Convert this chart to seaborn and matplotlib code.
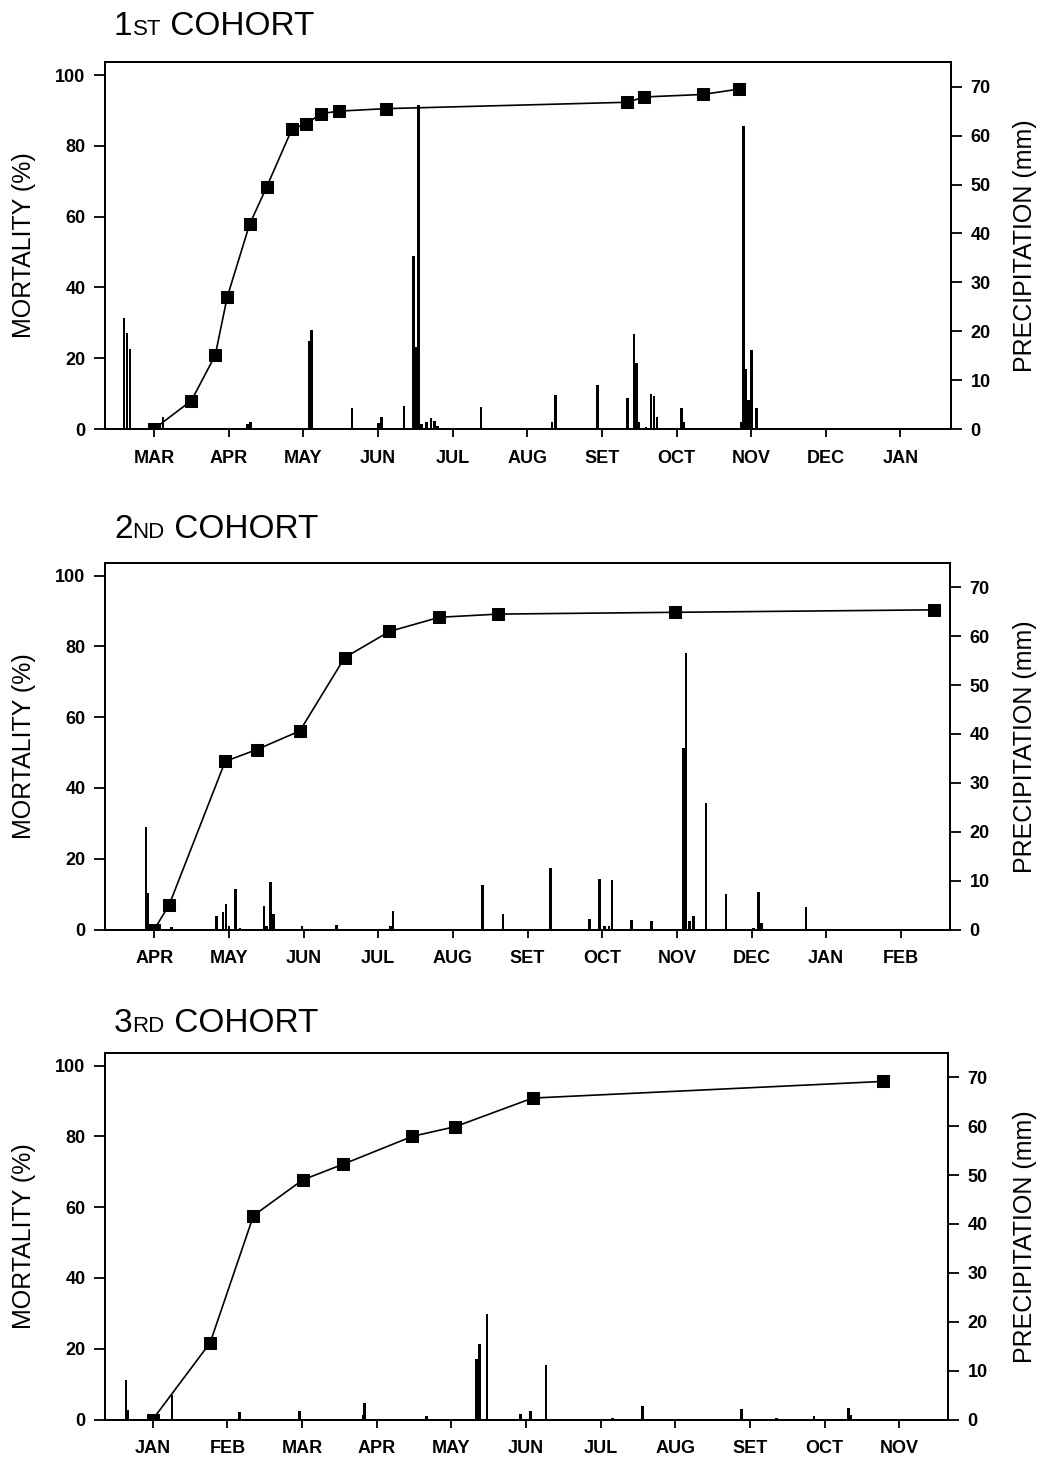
import matplotlib
matplotlib.use("Agg")
import matplotlib.pyplot as plt
import seaborn as sns
import numpy as np

# ---------------- data ----------------
months1 = ["MAR", "APR", "MAY", "JUN", "JUL", "AUG", "SET", "OCT", "NOV", "DEC", "JAN"]
months2 = ["APR", "MAY", "JUN", "JUL", "AUG", "SET", "OCT", "NOV", "DEC", "JAN", "FEB"]
months3 = ["JAN", "FEB", "MAR", "APR", "MAY", "JUN", "JUL", "AUG", "SET", "OCT", "NOV"]

# x positions are in months after the first labelled month
mort1_x = [0.00, 0.50, 0.82, 0.98, 1.28, 1.51, 1.85, 2.04, 2.24, 2.48, 3.11, 6.34, 6.57, 7.35, 7.83]
mort1_y = [0, 8.0, 20.8, 37.2, 57.8, 68.4, 84.8, 86.2, 89.1, 89.8, 90.5, 92.3, 93.8, 94.5, 96.0]
rain1_x = [-0.40, -0.36, -0.32, 0.12, 1.25, 1.29, 2.08, 2.11, 2.65, 3.01, 3.05, 3.35, 3.48, 3.50,
           3.54, 3.58, 3.65, 3.71, 3.76, 3.80, 4.38, 5.33, 5.38, 5.65, 5.94, 6.34, 6.43, 6.46,
           6.49, 6.59, 6.66, 6.70, 6.74, 7.07, 7.10, 7.26, 7.87, 7.90, 7.93, 7.96, 8.00, 8.07]
rain1_y = [22.6, 19.6, 16.4, 2.5, 1.0, 1.5, 17.9, 20.3, 4.2, 1.3, 2.5, 4.8, 35.3, 16.8,
           66.2, 1.0, 1.5, 2.3, 1.6, 0.7, 4.5, 1.5, 6.9, 0.3, 9.1, 6.4, 19.4, 13.5,
           1.5, 0.5, 7.1, 6.7, 2.4, 4.2, 1.5, 0.3, 1.5, 62.0, 12.3, 5.9, 16.1, 4.2]

mort2_x = [0.00, 0.20, 0.95, 1.37, 1.95, 2.55, 3.15, 3.82, 4.61, 6.97, 10.44]
mort2_y = [0, 7.0, 47.5, 50.8, 56.1, 76.8, 84.2, 88.2, 89.1, 89.6, 90.3]
rain2_x = [-0.11, -0.085, -0.05, 0.23, 0.83, 0.92, 0.96, 1.00, 1.09, 1.15, 1.47, 1.50, 1.56,
           1.60, 1.98, 2.44, 3.16, 3.20, 4.40, 4.67, 5.31, 5.83, 5.96, 6.03, 6.09, 6.13,
           6.39, 6.66, 7.09, 7.12, 7.17, 7.22, 7.39, 7.66, 8.03, 8.09, 8.13, 8.73]
rain2_y = [21.0, 7.5, 1.0, 0.5, 2.7, 3.5, 5.3, 0.8, 8.2, 0.3, 4.9, 0.8, 9.7,
           3.1, 0.8, 0.9, 0.7, 3.7, 9.2, 3.1, 12.6, 2.2, 10.4, 0.7, 0.8, 10.1,
           1.9, 1.7, 37.2, 56.6, 1.8, 2.7, 25.9, 7.3, 0.3, 7.6, 1.3, 4.6]

mort3_x = [0.00, 0.77, 1.35, 2.01, 2.55, 3.48, 4.05, 5.09, 9.78]
mort3_y = [0, 21.7, 57.6, 67.7, 72.1, 80.0, 82.7, 90.8, 95.5]
rain3_x = [-0.36, -0.33, 0.26, 1.16, 1.97, 2.82, 2.84, 3.67, 4.33, 4.36, 4.38, 4.48, 4.93,
           5.06, 5.27, 6.16, 6.56, 7.89, 8.36, 8.86, 9.32, 9.35]
rain3_y = [8.1, 2.0, 5.1, 1.5, 1.7, 1.0, 3.4, 0.8, 12.4, 12.4, 15.5, 21.5, 1.2,
           1.7, 11.2, 0.3, 2.7, 2.2, 0.4, 0.8, 2.3, 0.9]

titles = [("1", "ST", " COHORT"), ("2", "ND", " COHORT"), ("3", "RD", " COHORT")]
mort_ticks = [0, 20, 40, 60, 80, 100]
rain_ticks = [0, 10, 20, 30, 40, 50, 60, 70]

# ---------------- style ----------------
sns.set_theme(style="ticks")
plt.rcParams['font.family'] = ['Liberation Sans', 'DejaVu Sans']

W, H = 1044, 1458
DPI = 100
fig = plt.figure(figsize=(W / DPI, H / DPI), dpi=DPI)

# panel geometry in pixels: left, right, top, bottom, first-tick-x, title baseline
panels = [
    dict(l=105, r=951, t=62, b=429, x0=154.0, tb=35),
    dict(l=105, r=950, t=563, b=929.5, x0=154.3, tb=538),
    dict(l=105, r=948, t=1053, b=1419.5, x0=152.7, tb=1032),
]
datasets = [
    (months1, mort1_x, mort1_y, rain1_x, rain1_y),
    (months2, mort2_x, mort2_y, rain2_x, rain2_y),
    (months3, mort3_x, mort3_y, rain3_x, rain3_y),
]
PX_MONTH = 74.65
PX_MORT = 3.54   # px per % mortality
PX_RAIN = 4.89   # px per mm

fig.canvas.draw()
renderer = fig.canvas.get_renderer()

for p, (months, mx, my, rx, ry), ttl in zip(panels, datasets, titles):
    ax = fig.add_axes([p['l'] / W, 1 - p['b'] / H, (p['r'] - p['l']) / W, (p['b'] - p['t']) / H])
    ax2 = ax.twinx()

    hpx = p['b'] - p['t']
    xmin = (p['l'] - p['x0']) / PX_MONTH
    xmax = (p['r'] - p['x0']) / PX_MONTH

    # precipitation bars
    ax2.bar(rx, ry, width=0.035, color='black', linewidth=0, align='center')
    ax2.set_ylim(0, hpx / PX_RAIN)
    ax2.set_yticks(rain_ticks)
    ax2.set_yticklabels([str(v) for v in rain_ticks])

    # mortality line
    sns.lineplot(x=mx, y=my, ax=ax, color='black', marker='s', markersize=8,
                 markeredgecolor='black', markerfacecolor='black', linewidth=1.2,
                 sort=False, estimator=None)
    ax.set_zorder(ax2.get_zorder() + 1)
    ax.patch.set_visible(False)
    ax.set_ylim(0, hpx / PX_MORT)
    ax.set_xlim(xmin, xmax)
    ax.set_yticks(mort_ticks)
    ax.set_yticklabels([str(v) for v in mort_ticks])
    ax.set_xticks(range(len(months)))
    ax.set_xticklabels(months)
    ax.set_xlabel("")
    ax.set_ylabel("")

    for a in (ax, ax2):
        for s in a.spines.values():
            s.set_visible(True)
            s.set_linewidth(1.4)
            s.set_color('black')
    ax.tick_params(axis='y', direction='out', length=8, width=1.3, pad=6,
                   labelsize=13, colors='black')
    ax.tick_params(axis='x', direction='out', length=6, width=1.3, pad=9,
                   labelsize=13, colors='black')
    ax2.tick_params(axis='y', direction='out', length=8, width=1.3, pad=6,
                    labelsize=13, colors='black')
    for lab in ax.get_xticklabels() + ax.get_yticklabels() + ax2.get_yticklabels():
        lab.set_fontweight('bold')

    # axis titles
    yc = 1 - ((p['t'] + p['b']) / 2) / H
    fig.text(24 / W, yc, "MORTALITY (%)", rotation=90, ha='center', va='center',
             fontsize=18, color='black')
    fig.text(1025 / W, yc, "PRECIPITATION (mm)", rotation=90, ha='center', va='center',
             fontsize=18, color='black')

    # panel title with small caps suffix
    yb = 1 - p['tb'] / H
    x = 114
    for piece, fs in zip(ttl, (24, 16, 24)):
        t = fig.text(x / W, yb, piece, fontsize=fs, ha='left', va='baseline', color='black')
        bb = t.get_window_extent(renderer=renderer)
        x += bb.width

fig.savefig("out.png", dpi=DPI, facecolor='white')
